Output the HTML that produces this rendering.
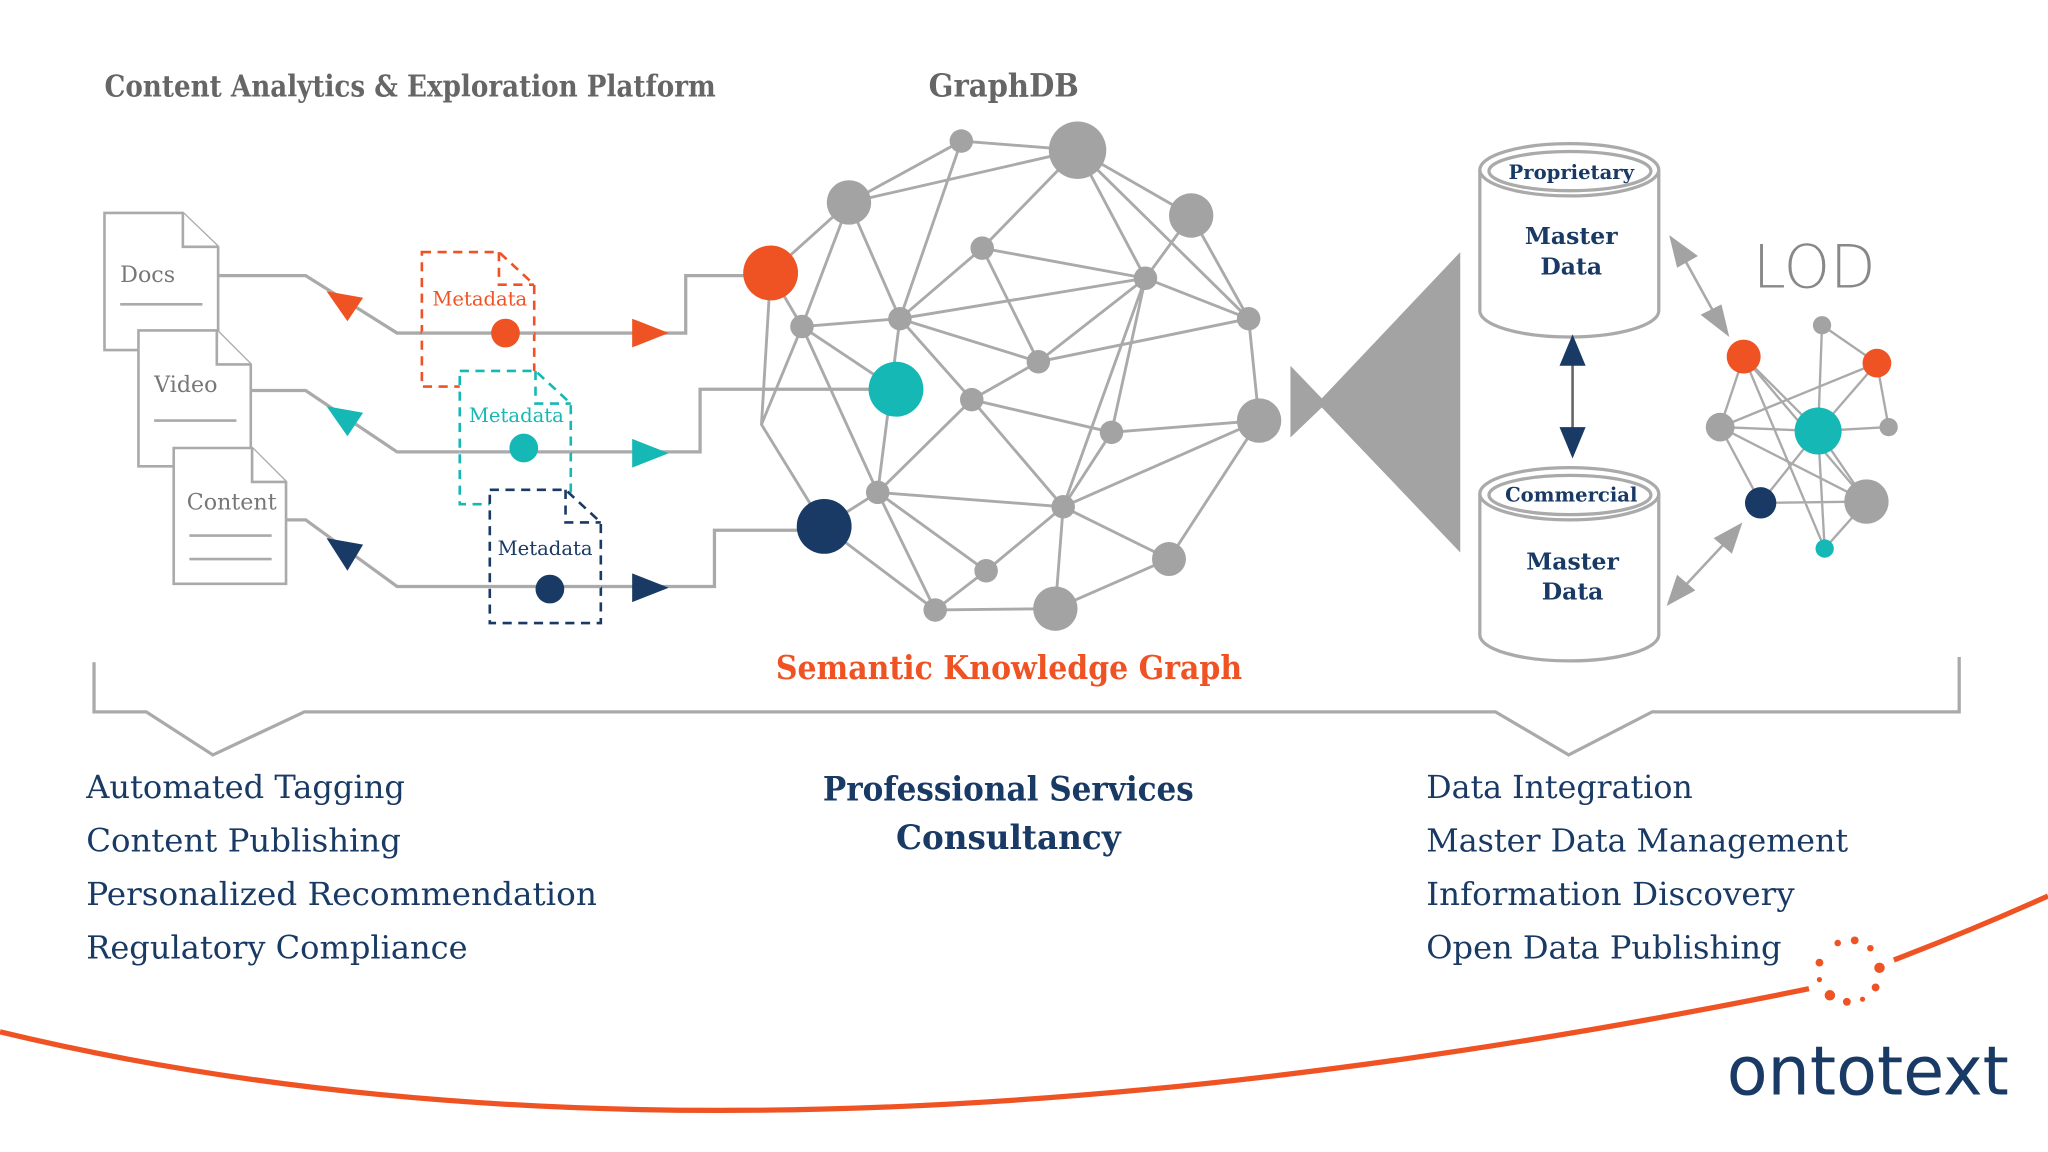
<!DOCTYPE html>
<html><head><meta charset="utf-8"><style>
html,body{margin:0;padding:0;background:#fff;}
svg{display:block;}
text{font-family:"DejaVu Serif","Liberation Serif",serif;}
</style></head><body>
<svg width="2048" height="1152" viewBox="0 0 1568 882" xmlns="http://www.w3.org/2000/svg">
<rect width="1568" height="882" fill="#fff"/>
<text x="80" y="74" font-size="23" fill="#666" font-weight="bold" textLength="468" lengthAdjust="spacingAndGlyphs">Content Analytics &amp; Exploration Platform</text>
<text x="711" y="74" font-size="24" fill="#666" font-weight="bold" textLength="115" lengthAdjust="spacingAndGlyphs">GraphDB</text>
<text x="1342" y="220" font-size="46" fill="#888" style="font-family:'DejaVu Sans','Liberation Sans',sans-serif;font-weight:200" textLength="94" lengthAdjust="spacingAndGlyphs">LOD</text>

<!-- documents -->
<g fill="#fff" stroke="#aaa" stroke-width="2">
<path d="M80,163 H140 L167,189 V268 H80 Z"/><path d="M140,163 V189 H167"/>
<path d="M106,253 H166 L192,279 V357 H106 Z"/><path d="M166,253 V279 H192"/>
<path d="M133,343 H193 L219,369 V447 H133 Z"/><path d="M193,343 V369 H219"/>
</g>
<g stroke="#aaa" stroke-width="2"><line x1="92" y1="233" x2="155" y2="233"/><line x1="118" y1="322" x2="181" y2="322"/><line x1="145" y1="410" x2="208" y2="410"/><line x1="145" y1="428" x2="208" y2="428"/></g>
<text x="92" y="216" font-size="17" fill="#777">Docs</text>
<text x="118" y="300" font-size="17" fill="#777">Video</text>
<text x="143" y="390" font-size="17" fill="#777">Content</text>

<g fill="none" stroke="#aaa" stroke-width="2.5">
<path d="M167,211 H234 L304,255 H525 V211 H570"/>
<path d="M192,299 H234 L304,346 H536 V298 H666"/>
<path d="M219,398 H234 L304,449 H547 V406 H611"/>
</g>
<g fill="#fff" stroke-width="2" stroke-dasharray="7,5">
<path d="M323,193 H382 L409,218 V296 H323 Z" stroke="#ef5324"/><path d="M382,193 V218 H409" stroke="#ef5324" fill="none"/>
<path d="M352,284 H410 L437,309 V386 H352 Z" stroke="#15b8b5"/><path d="M410,284 V309 H437" stroke="#15b8b5" fill="none"/>
<path d="M375,375 H433 L460,400 V477 H375 Z" stroke="#193a64"/><path d="M433,375 V400 H460" stroke="#193a64" fill="none"/>
</g>
<text x="331" y="234" font-size="15" fill="#ef5324">Metadata</text>
<text x="359" y="323" font-size="15" fill="#15b8b5">Metadata</text>
<text x="381" y="425" font-size="15" fill="#193a64">Metadata</text>
<g stroke="#aaa" stroke-width="2.5"><line x1="323" y1="255" x2="409" y2="255"/><line x1="352" y1="346" x2="437" y2="346"/><line x1="375" y1="449" x2="460" y2="449"/></g>
<circle cx="387" cy="255" r="11" fill="#ef5324"/>
<circle cx="401" cy="343" r="11" fill="#15b8b5"/>
<circle cx="421" cy="451" r="11" fill="#193a64"/>
<polygon points="250,223 278,228 266,246" fill="#ef5324"/>
<polygon points="250,311 278,316 266,334" fill="#15b8b5"/>
<polygon points="250,412 278,417 266,437" fill="#193a64"/>
<polygon points="484,244 512,255 484,266" fill="#ef5324"/>
<polygon points="484,336 512,347 484,358" fill="#15b8b5"/>
<polygon points="484,439 512,450 484,461" fill="#193a64"/>

<g stroke="#aaa" stroke-width="2.2" fill="none">
<path d="M736,108 L825,115 M736,108 L650,155 M650,155 L825,115 M825,115 L912,165 M825,115 L752,190 M825,115 L877,213 M752,190 L877,213 M752,190 L689,244 M650,155 L689,244 M650,155 L614,250 M650,155 L590,209 M590,209 L614,250 M614,250 L689,244 M689,244 L877,213 M877,213 L956,244 M912,165 L956,244 M912,165 L877,213 M956,244 L964,322 M877,213 L795,277 M689,244 L795,277 M689,244 L744,306 M795,277 L744,306 M795,277 L956,244 M877,213 L851,331 M851,331 L964,322 M744,306 L672,377 M744,306 L814,388 M851,331 L814,388 M814,388 L964,322 M672,377 L814,388 M672,377 L631,403 M614,250 L672,377 M614,250 L583,325 L631,403 M716,467 L672,377 M672,377 L755,437 M755,437 L814,388 M755,437 L716,467 M716,467 L808,466 M814,388 L808,466 M814,388 L895,428 M895,428 L808,466 M895,428 L964,322 M752,190 L795,277 M736,108 L689,244 M614,250 L686,298 M689,244 L672,377 M877,213 L814,388 M744,306 L851,331 M631,403 L716,467 M590,209 L583,325 M825,115 L956,244"/>
</g>
<g fill="#a3a3a3">
<circle cx="736" cy="108" r="9"/><circle cx="825" cy="115" r="22"/><circle cx="650" cy="155" r="17"/><circle cx="912" cy="165" r="17"/>
<circle cx="752" cy="190" r="9"/><circle cx="877" cy="213" r="9"/><circle cx="689" cy="244" r="9"/><circle cx="614" cy="250" r="9"/>
<circle cx="956" cy="244" r="9"/><circle cx="795" cy="277" r="9"/><circle cx="744" cy="306" r="9"/><circle cx="964" cy="322" r="17"/>
<circle cx="851" cy="331" r="9"/><circle cx="672" cy="377" r="9"/><circle cx="814" cy="388" r="9"/><circle cx="895" cy="428" r="13"/>
<circle cx="755" cy="437" r="9"/><circle cx="716" cy="467" r="9"/><circle cx="808" cy="466" r="17"/>
</g>
<circle cx="590" cy="209" r="21" fill="#ef5324"/>
<circle cx="686" cy="298" r="21" fill="#15b8b5"/>
<circle cx="631" cy="403" r="21" fill="#193a64"/>

<text x="594" y="520" font-size="25" fill="#ef5324" font-weight="bold" textLength="357" lengthAdjust="spacingAndGlyphs">Semantic Knowledge Graph</text>

<polygon points="988,280 1012,305 1118,193 1118,423 1012,312 988,335" fill="#a3a3a3"/>

<g fill="#fff" stroke="#aaa" stroke-width="2.5">
<path d="M1133,130 V238 A68.5,20 0 0 0 1270,238 V130"/>
<ellipse cx="1201.5" cy="130" rx="68.5" ry="20"/>
<ellipse cx="1202" cy="131" rx="62" ry="15"/>
<path d="M1133,378 V486 A68.5,20 0 0 0 1270,486 V378"/>
<ellipse cx="1201.5" cy="378" rx="68.5" ry="20"/>
<ellipse cx="1202" cy="379" rx="62" ry="15"/>
</g>
<g fill="#193a64" font-weight="bold" text-anchor="middle">
<text x="1203" y="137" font-size="15">Proprietary</text>
<text x="1203" y="187" font-size="18">Master</text><text x="1203" y="210" font-size="18">Data</text>
<text x="1203" y="384" font-size="15">Commercial</text>
<text x="1204" y="436" font-size="18">Master</text><text x="1204" y="459" font-size="18">Data</text>
</g>
<line x1="1204" y1="270" x2="1204" y2="335" stroke="#666" stroke-width="2"/>
<polygon points="1194,280 1204,256 1214,280" fill="#193a64"/>
<polygon points="1194,327 1204,351 1214,327" fill="#193a64"/>
<line x1="1285" y1="190" x2="1317" y2="248" stroke="#aaa" stroke-width="2"/>
<polygon points="1278,180 1300,196 1284,205" fill="#a3a3a3"/>
<polygon points="1324,258 1302,241 1318,233" fill="#a3a3a3"/>
<line x1="1284" y1="455" x2="1326" y2="410" stroke="#aaa" stroke-width="2"/>
<polygon points="1276,464 1284,440 1298,452" fill="#a3a3a3"/>
<polygon points="1334,400 1326,424 1312,412" fill="#a3a3a3"/>

<g stroke="#aaa" stroke-width="1.8">
<path d="M1395,249 L1437,278 M1395,249 L1392,330 M1335,273 L1392,330 M1335,273 L1429,384 M1335,273 L1397,420 M1335,273 L1317,327 M1437,278 L1392,330 M1437,278 L1446,327 M1437,278 L1317,327 M1317,327 L1392,330 M1392,330 L1446,327 M1317,327 L1348,385 M1317,327 L1429,384 M1392,330 L1348,385 M1392,330 L1429,384 M1348,385 L1429,384 M1392,330 L1397,420 M1429,384 L1397,420"/>
</g>
<circle cx="1395" cy="249" r="7" fill="#a3a3a3"/>
<circle cx="1335" cy="273" r="13" fill="#ef5324"/>
<circle cx="1437" cy="278" r="11" fill="#ef5324"/>
<circle cx="1317" cy="327" r="11" fill="#a3a3a3"/>
<circle cx="1392" cy="330" r="18" fill="#15b8b5"/>
<circle cx="1446" cy="327" r="7" fill="#a3a3a3"/>
<circle cx="1348" cy="385" r="12" fill="#193a64"/>
<circle cx="1429" cy="384" r="17" fill="#a3a3a3"/>
<circle cx="1397" cy="420" r="7" fill="#15b8b5"/>

<path d="M72,507 V545 H112 L163,578 L233,545 H1145 L1201,578 L1265,545 H1500 V503" fill="none" stroke="#aaa" stroke-width="2.5"/>

<g fill="#193a64" font-size="24" lengthAdjust="spacingAndGlyphs">
<text x="66" y="611" textLength="244" lengthAdjust="spacingAndGlyphs">Automated Tagging</text>
<text x="66" y="652" textLength="241" lengthAdjust="spacingAndGlyphs">Content Publishing</text>
<text x="66" y="693" textLength="391" lengthAdjust="spacingAndGlyphs">Personalized Recommendation</text>
<text x="66" y="734" textLength="292" lengthAdjust="spacingAndGlyphs">Regulatory Compliance</text>
<text x="1092" y="611" textLength="204" lengthAdjust="spacingAndGlyphs">Data Integration</text>
<text x="1092" y="652" textLength="323" lengthAdjust="spacingAndGlyphs">Master Data Management</text>
<text x="1092" y="693" textLength="282" lengthAdjust="spacingAndGlyphs">Information Discovery</text>
<text x="1092" y="734" textLength="272" lengthAdjust="spacingAndGlyphs">Open Data Publishing</text>
</g>
<g fill="#193a64" font-size="26" font-weight="bold" text-anchor="middle">
<text x="772" y="613" textLength="284" lengthAdjust="spacingAndGlyphs">Professional Services</text>
<text x="772" y="650" textLength="172" lengthAdjust="spacingAndGlyphs">Consultancy</text>
</g>

<path d="M0,790 Q560,925 1385,757" fill="none" stroke="#ef5324" stroke-width="4"/>
<path d="M1450,735 Q1510,712 1568,686" fill="none" stroke="#ef5324" stroke-width="4"/>
<g fill="#ef5324">
<circle cx="1407" cy="722" r="2.5"/><circle cx="1420" cy="720" r="3"/><circle cx="1432" cy="726" r="2.5"/><circle cx="1439" cy="741" r="4"/>
<circle cx="1436" cy="756" r="3"/><circle cx="1426" cy="765" r="2"/><circle cx="1414" cy="767" r="3"/><circle cx="1401" cy="762" r="4"/>
<circle cx="1393" cy="750" r="2"/><circle cx="1393" cy="737" r="3"/>
</g>
<text x="1322" y="838" font-size="52" fill="#193a64" style="font-family:'DejaVu Sans','Liberation Sans',sans-serif" textLength="216" lengthAdjust="spacingAndGlyphs">ontotext</text>
</svg>
</body></html>
